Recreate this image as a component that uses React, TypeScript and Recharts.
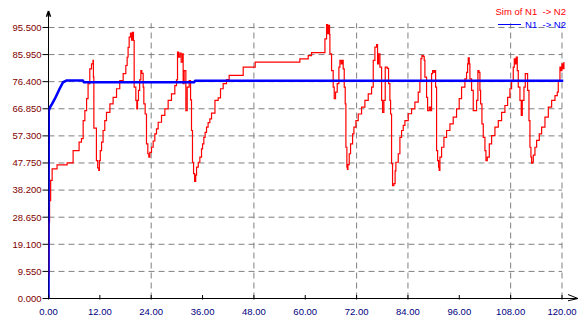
import React from 'react';
import { LineChart, Line, XAxis, YAxis, ReferenceLine, Legend } from 'recharts';

const FONT = '"Liberation Sans", Arial, sans-serif';
const FS = 9.5;

const seriesNames = ['Sim of N1  -> N2', 'N1  -> N2'];
const seriesColors = ['#ff0000', '#0000ff'];

const xTicks = [0, 12, 24, 36, 48, 60, 72, 84, 96, 108, 120];
const yTicks = [0, 9.55, 19.1, 28.65, 38.2, 47.75, 57.3, 66.85, 76.4, 85.95, 95.5];
const gridXValues = [24, 48, 72, 84, 108, 120];
const gridYValues = [9.55, 19.1, 28.65, 38.2, 47.75, 57.3, 66.85, 76.4, 85.95, 95.5];

const X_MAX = 123.74;
const Y_MAX = 101.3;

const redX = [
  0, 0.1, 0.25, 0.5, 0.85, 2.0, 4.35, 5.75, 7.15, 7.7, 8.1, 8.5, 8.9, 9.25, 9.65, 10.05, 10.4, 10.5, 10.6, 11.2,
  11.5, 11.75, 11.9, 12.1, 12.4, 12.75, 13.15, 13.55, 14.35, 15.1, 15.9, 16.65, 17.45, 18.07, 18.38, 18.6, 18.85, 19.16, 19.4, 19.63,
  19.86, 20.02, 20.41, 20.64, 20.8, 21.03, 21.3, 21.58, 21.81, 22.12, 22.28, 22.59, 22.9, 23.21, 23.45, 23.68, 24.07, 24.46, 24.85, 25.24,
  25.63, 26.41, 27.19, 27.96, 28.74, 29.52, 29.91, 30.15, 30.38, 30.69, 31.0, 31.32, 31.47, 31.7, 32.02, 32.1, 32.41, 32.87, 33.2, 33.42,
  33.65, 33.9, 34.15, 34.4, 34.6, 35.0, 35.37, 35.76, 36.0, 36.3, 36.6, 36.93, 37.3, 37.7, 38.1, 38.9, 39.65, 40.2, 40.82, 41.6,
  42.22, 45.5, 48.3, 58.74, 60.69, 61.47, 64.6, 64.98, 65.21, 65.44, 65.68, 65.76, 66.15, 66.53, 66.77, 67.08, 67.47, 67.86, 68.1, 68.41,
  68.64, 68.87, 69.11, 69.34, 69.5, 69.73, 69.85, 69.97, 70.28, 70.59, 71.06, 71.37, 71.84, 72.38, 73.16, 73.94, 74.72, 75.5, 75.89, 76.28,
  76.67, 76.9, 77.14, 77.45, 77.84, 78.07, 78.38, 78.69, 79.16, 79.47, 79.78, 79.94, 80.17, 80.4, 80.71, 81.0, 81.18, 81.73, 82.12, 82.51,
  82.9, 83.29, 84.07, 84.85, 85.62, 86.4, 86.79, 87.03, 87.26, 87.57, 87.8, 87.96, 88.35, 88.59, 88.98, 89.29, 89.52, 89.76, 90.07, 90.3,
  90.46, 90.69, 90.93, 91.16, 91.3, 91.47, 91.86, 92.41, 93.03, 93.81, 94.58, 95.36, 95.98, 96.53, 97.31, 97.7, 97.94, 98.09, 98.33, 98.48,
  98.87, 99.26, 100.04, 100.35, 100.59, 100.82, 100.98, 101.29, 101.6, 101.99, 102.23, 102.54, 103.01, 103.55, 104.33, 105.11, 105.89, 106.66, 107.29, 107.83,
  108.22, 108.61, 108.85, 109.08, 109.31, 109.55, 109.78, 110.17, 110.48, 110.72, 111.11, 111.42, 111.73, 111.96, 112.28, 112.51, 112.74, 112.9, 113.1, 113.29,
  113.68, 114.07, 114.69, 115.24, 116.02, 116.8, 117.58, 118.36, 118.9, 119.13, 119.52, 119.76, 119.99, 120.22, 120.46,
];
const redY = [
  8, 27, 34.5, 41.6, 45.7, 47.1, 47.8, 52.1, 55.1, 56.3, 62.7, 66.2, 70.4, 75.7, 80.9, 82.7, 83.9, 78, 60, 48.6,
  46, 45.1, 48.6, 52.1, 55.1, 59.2, 62.7, 65.6, 68.6, 70.9, 73.9, 76.8, 79.2, 82.1, 85, 88.5, 92.1, 93.5, 91, 93.8,
  90.9, 74.5, 69.8, 66.8, 69.8, 73.3, 77, 80.3, 79.3, 74.5, 68.6, 65, 54.5, 51, 49.8, 51.5, 53.3, 55.5, 58, 59.8,
  62.1, 64.5, 66.8, 69.8, 72.1, 75, 77, 86.8, 85, 86.5, 83.3, 86.2, 75.7, 80.3, 80.3, 66.2, 74.5, 76.8, 70, 59.2,
  48, 44, 41.3, 43.5, 46.3, 48, 49.8, 52.7, 54.5, 56.8, 58.5, 60.4, 62, 63.3, 65.3, 69.8, 70.7, 73.9, 75.7, 77.1,
  78.6, 81.5, 83.3, 84.4, 85.6, 86.6, 91.5, 96.5, 93.3, 96.2, 93, 86.2, 80.3, 74.5, 70.4, 72.7, 75.7, 81.5, 83.9, 82.7,
  83.9, 80.9, 74.5, 68.6, 53.3, 46.3, 45.5, 47.2, 51, 54.5, 58, 60.4, 62.7, 65, 67.4, 69.8, 72.1, 74.5, 83.9, 88.6,
  89.5, 82.7, 86.2, 81.5, 69.8, 65.6, 69.8, 81.5, 81.1, 75.7, 69.8, 65, 47.5, 39.8, 40.5, 45, 48, 51, 56.8, 59.2,
  61, 62.7, 65.1, 66.8, 69.2, 72.7, 76.8, 84.5, 85.6, 85.3, 83.9, 78, 70.9, 66.2, 67.4, 66.2, 79.2, 80.3, 79.7, 80.3,
  74.5, 52.1, 48.6, 46.3, 45.1, 49.8, 53.3, 56.8, 59.2, 61.5, 63.9, 66.8, 70.4, 74.5, 77.4, 79.7, 82.7, 84.8, 82.7, 77.4,
  73.3, 66.2, 69.8, 80.3, 79.7, 73.3, 68.6, 61.5, 56.8, 52.1, 48.6, 49.8, 54.5, 57.4, 60.4, 62.7, 65.6, 68, 70.9, 73.9,
  76.8, 81.5, 84.4, 82.7, 85.1, 80.3, 74.5, 69.8, 64.5, 69.8, 74.5, 79.2, 79.2, 73.3, 62.7, 53.3, 49.8, 47.7, 48, 50.5,
  53.3, 55.7, 58, 60.4, 63.9, 67.4, 69.8, 71.5, 72.7, 76.8, 81.5, 80.3, 82.7, 81, 83.3,
];

const blueX = [0, 0.05, 0.4, 0.8, 1.5, 2.6, 3.4, 4.2, 8.0, 8.3, 34.0, 34.3, 120.3];
const blueY = [0, 66.2, 67.5, 68.5, 70.4, 73.9, 76.2, 76.8, 76.8, 76.2, 76.2, 76.7, 76.7];

const redData = redX.map((x, i) => ({ x, y: redY[i] }));
const blueData = blueX.map((x, i) => ({ x, y: blueY[i] }));

const XTick = (props: any) => {
  const { x, y, payload } = props;
  return (
    <g>
      <line x1={x} x2={x} y1={y - 3.5} y2={y + 1} stroke="#000" strokeWidth={1} />
      <text x={x} y={y + 16} textAnchor="middle" fill="#000080" fontSize={FS} fontFamily={FONT}>
        {Number(payload.value).toFixed(2)}
      </text>
    </g>
  );
};

const LegendBox = (props: any) => {
  const payload = [...(props.payload || [])].sort(
    (a: any, b: any) => seriesNames.indexOf(a.value) - seriesNames.indexOf(b.value)
  );
  return (
    <div style={{ position: 'relative', width: 587, height: 40, fontFamily: FONT, fontSize: FS, lineHeight: '11px' }}>
      {payload.map((entry: any, i: number) => (
        <div
          key={i}
          style={{
            position: 'absolute',
            right: 21,
            top: 6.4 + i * 12.5,
            color: entry.color,
            display: 'flex',
            alignItems: 'center',
            whiteSpace: 'pre',
          }}
        >
          {entry.type === 'line' ? (
            <span style={{ display: 'inline-block', width: 23, height: 0, borderTop: `1.5px solid ${entry.color}`, marginRight: 4 }} />
          ) : null}
          <span>{entry.value}</span>
        </div>
      ))}
    </div>
  );
};

export default function App() {
  return (
    <div style={{ position: 'absolute', left: 0, top: 0, width: 587, height: 331, background: '#fff' }}>
      <LineChart width={587} height={331} margin={{ top: 11, right: 9, bottom: 0, left: 0 }}>
        <XAxis
          type="number"
          dataKey="x"
          domain={[0, X_MAX]}
          ticks={xTicks}
          interval={0}
          allowDataOverflow
          height={32.5}
          axisLine={{ stroke: '#000', strokeWidth: 1 }}
          tickLine={false}
          tickSize={0}
          tickMargin={0}
          tick={<XTick />}
        />
        <YAxis
          type="number"
          dataKey="y"
          domain={[0, Y_MAX]}
          ticks={yTicks}
          interval={0}
          allowDataOverflow
          width={48.5}
          axisLine={{ stroke: '#000', strokeWidth: 1 }}
          tickLine={{ stroke: '#000' }}
          tickSize={6}
          tickMargin={1}
          tick={{ fill: '#800000', fontSize: FS, fontFamily: FONT }}
          tickFormatter={(v: number) => v.toFixed(3)}
        />
        {gridYValues.map((v) => (
          <ReferenceLine
            key={'h' + v}
            segment={[{ x: 0, y: v }, { x: 120, y: v }]}
            stroke="#808080"
            strokeDasharray="6 4"
            ifOverflow="visible"
            zIndex={-100}
          />
        ))}
        {gridXValues.map((v) => (
          <ReferenceLine
            key={'v' + v}
            segment={[{ x: v, y: 0 }, { x: v, y: 97 }]}
            stroke="#808080"
            strokeDasharray="6 4"
            ifOverflow="visible"
            zIndex={-100}
          />
        ))}
        <ReferenceLine segment={[{ x: -0.47, y: 99.3 }, { x: 0, y: Y_MAX }]} stroke="#000" strokeWidth={1.5} ifOverflow="visible" />
        <ReferenceLine segment={[{ x: 0, y: Y_MAX }, { x: 0.47, y: 99.3 }]} stroke="#000" strokeWidth={1.5} ifOverflow="visible" />
        <ReferenceLine segment={[{ x: 121.4, y: 1.4 }, { x: X_MAX, y: 0 }]} stroke="#000" ifOverflow="visible" />
        <ReferenceLine segment={[{ x: 121.4, y: -0.8 }, { x: X_MAX, y: 0 }]} stroke="#000" ifOverflow="visible" />
        <Line
          data={redData}
          dataKey="y"
          name={seriesNames[0]}
          type="stepAfter"
          stroke={seriesColors[0]}
          strokeWidth={1.2}
          dot={false}
          legendType="square"
          isAnimationActive={false}
          zIndex={600}
        />
        <Line
          data={blueData}
          dataKey="y"
          name={seriesNames[1]}
          type="linear"
          stroke={seriesColors[1]}
          strokeWidth={2.6}
          dot={false}
          legendType="line"
          isAnimationActive={false}
          zIndex={650}
        />
        <Legend
          layout="horizontal"
          verticalAlign="middle"
          align="center"
          itemSorter={null as any}
          wrapperStyle={{ top: 0, left: 0, width: 587, height: 40 }}
          content={<LegendBox />}
        />
      </LineChart>
    </div>
  );
}
